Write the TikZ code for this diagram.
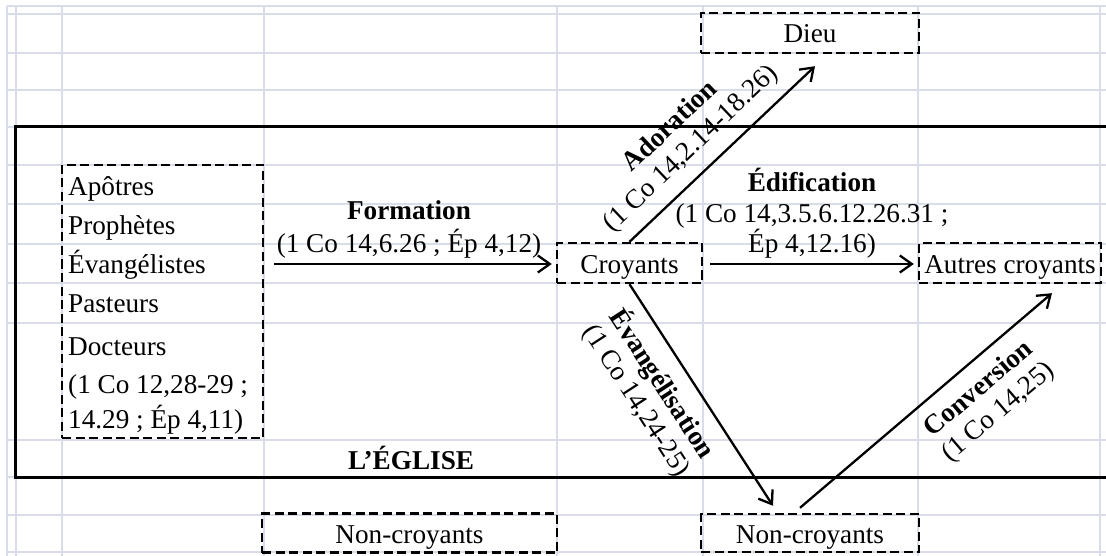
\documentclass[tikz,border=0pt]{standalone}
\usepackage{fontspec}
\setmainfont{Liberation Serif}
\usetikzlibrary{arrows.meta,calc}
\definecolor{gridc}{RGB}{216,221,233}
\begin{document}
\begin{tikzpicture}[x=1pt,y=-1pt,
  every node/.style={font=\fontsize{27.2}{31}\selectfont, inner sep=0pt},
  dbox/.style={draw, line width=2.4pt, dash pattern=on 9pt off 4.5pt, text height=20pt, text depth=0pt},
  arr/.style={line width=2.3pt, -{Straight Barb[length=12pt,width=17pt,line width=2.3pt]}},
  church/.style={line width=3pt},
  gridl/.style={gridc, line width=1.2pt},
  lab/.style={align=center}
]
\useasboundingbox (0,0) rectangle (1106,556);
% spreadsheet grid
\foreach \yy in {6,14,53,90,127,165,204,244,283,323,440,477,515,552}
  \draw[gridl] (7,\yy) -- (1106,\yy);
\foreach \xx in {7,16,62,264,557,703,918,1100}
  \draw[gridl] (\xx,6) -- (\xx,556);
% the church frame
\draw[church] (1108,127) -| (15,477) -- (1108,477);
\node[anchor=base, font=\fontsize{27.2}{31}\selectfont\bfseries] (eglise) at (411,469) {L’ÉGLISE};
% boxes
\node[dbox, minimum width=218pt, minimum height=40pt] (dieu) at (810,33) {Dieu};
\node[dbox, minimum width=145pt, minimum height=40pt] (croy) at (629.5,263) {Croyants};
\node[dbox, minimum width=182pt, minimum height=40pt] (aut) at (1010,263) {Autres croyants};
\node[dbox, minimum width=295pt, minimum height=39pt] (nc1) at (409.5,533) {Non-croyants};
\node[dbox, minimum width=218pt, minimum height=38pt] (nc2) at (810,533) {Non-croyants};
\node[dbox, minimum width=201pt, minimum height=273pt] (lbox) at (162.5,301.5) {};
\node[anchor=base west, align=left, font=\fontsize{27.2}{39}\selectfont] (ltext) at (68,428)
  {Apôtres\\Prophètes\\Évangélistes\\Pasteurs\\[4pt]Docteurs\\[-1pt](1 Co 12,28-29 ;\\[-4pt]14.29 ; Ép 4,11)};
% horizontal labels
\node[lab, anchor=base] (form) at (409,253) {\textbf{Formation}\\[2pt](1 Co 14,6.26 ; Ép 4,12)};
\node[lab, anchor=base] (edif) at (812,252) {\textbf{Édification}\\(1 Co 14,3.5.6.12.26.31 ;\\[-2pt]Ép 4,12.16)};
% diagonal labels
\node[lab, rotate=43.5, font=\fontsize{27.2}{30}\selectfont] (ador) at (681,138) {\textbf{Adoration}\\(1 Co 14,2.14-18.26)};
\node[lab, rotate=-57, font=\fontsize{27.2}{30}\selectfont] (evan) at (650,392) {\textbf{Évangélisation}\\(1 Co 14,24-25)};
\node[lab, rotate=40.5, font=\fontsize{27.2}{30}\selectfont] (conv) at (989,401) {\textbf{Conversion}\\(1 Co 14,25)};
% arrows
\draw[arr] ($(lbox.east |- croy.west)+(10,1)$) -- ($(croy.west)+(-4,1)$);
\draw[arr] ($(croy.east)+(7,1)$) -- ($(aut.west)+(-4,1)$);
\draw[arr] (croy.north) -- ($(dieu.south)+(5,12)$);
\draw[arr] (croy.south) -- ($(nc2.north)+(-37,-7)$);
\draw[arr] ($(nc2.north)+(-10,-5)$) -- ($(aut.south)+(42,9)$);
\end{tikzpicture}
\end{document}
